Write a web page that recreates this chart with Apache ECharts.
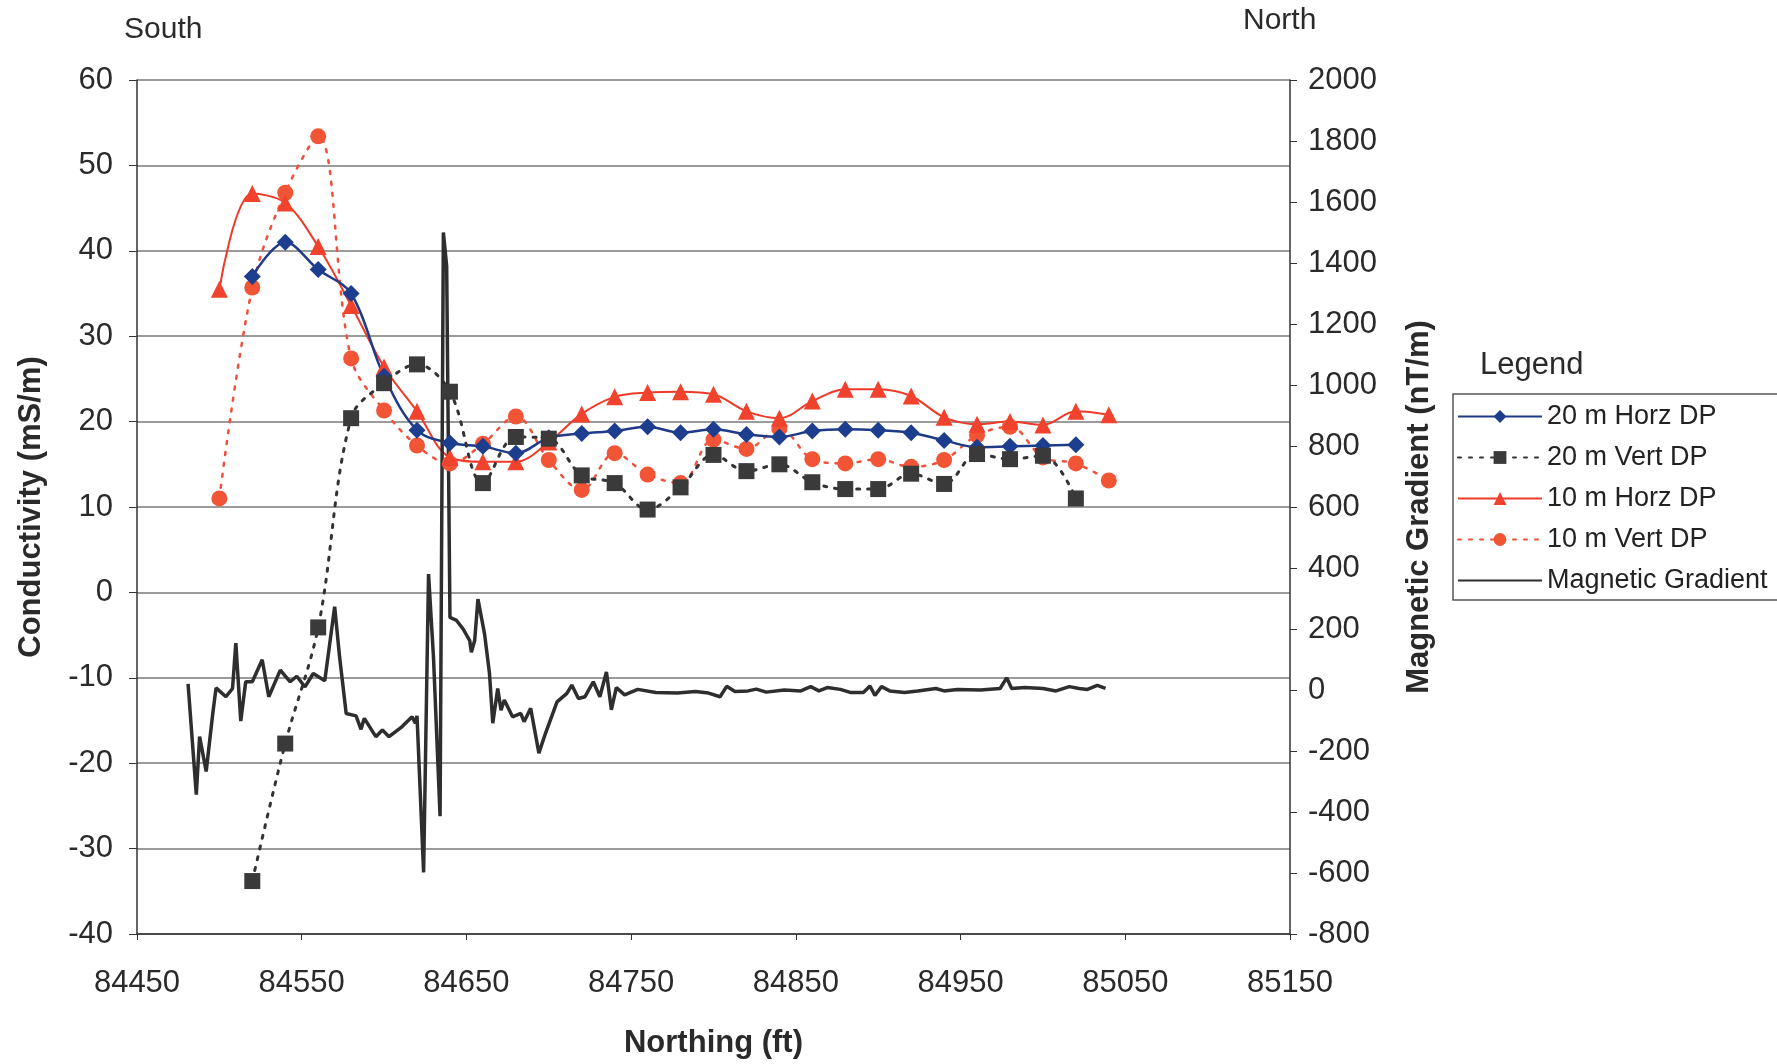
<!DOCTYPE html>
<html><head><meta charset="utf-8">
<script src="https://cdn.jsdelivr.net/npm/echarts@6/dist/echarts.min.js"></script>
<style>html,body{margin:0;padding:0;background:#fff}#c{width:1777px;height:1064px}</style>
</head><body><div id="c"></div>
<script>
// ---- data ----
const xTickLabels = [84450, 84550, 84650, 84750, 84850, 84950, 85050, 85150];
const leftTicks = [-40, -30, -20, -10, 0, 10, 20, 30, 40, 50, 60];
const rightTicks = [-800, -600, -400, -200, 0, 200, 400, 600, 800, 1000, 1200, 1400, 1600, 1800, 2000];

const northing20 = [84520, 84540, 84560, 84580, 84600, 84620, 84640, 84660, 84680, 84700, 84720, 84740, 84760,
  84780, 84800, 84820, 84840, 84860, 84880, 84900, 84920, 84940, 84960, 84980, 85000, 85020];
const horz20 = [37.0, 41.0, 37.8, 35.0, 25.3, 19.0, 17.5, 17.1, 16.3, 18.1, 18.6, 18.9, 19.4,
  18.7, 19.1, 18.5, 18.2, 18.9, 19.1, 19.0, 18.7, 17.8, 17.0, 17.1, 17.2, 17.3];
const vert20 = [-33.8, -17.7, -4.1, 20.4, 24.5, 26.7, 23.5, 12.8, 18.2, 18.0, 13.7, 12.8, 9.7,
  12.3, 16.1, 14.2, 15.0, 12.9, 12.1, 12.1, 13.9, 12.7, 16.2, 15.6, 16.0, 11.0];

const northing10 = [84500, 84520, 84540, 84560, 84580, 84600, 84620, 84640, 84660, 84680, 84700, 84720, 84740, 84760,
  84780, 84800, 84820, 84840, 84860, 84880, 84900, 84920, 84940, 84960, 84980, 85000, 85020, 85040];
const horz10 = [35.5, 46.7, 45.6, 40.5, 33.6, 26.4, 21.2, 15.8, 15.3, 15.3, 17.6, 20.9, 22.9, 23.4,
  23.5, 23.2, 21.2, 20.4, 22.4, 23.8, 23.8, 23.0, 20.5, 19.7, 20.0, 19.6, 21.2, 20.8];
const vert10 = [11.0, 35.7, 46.8, 53.4, 27.4, 21.3, 17.2, 15.1, 17.4, 20.6, 15.5, 12.0, 16.3, 13.8,
  12.8, 17.9, 16.8, 19.2, 15.6, 15.1, 15.6, 14.7, 15.5, 18.4, 19.4, 15.8, 15.1, 13.1];

const magNorthing = [84481, 84486, 84488, 84492, 84496, 84498, 84504, 84508, 84510, 84513, 84516, 84520, 84526,
  84530, 84537, 84543, 84547, 84552, 84557, 84564, 84570, 84573, 84577, 84583, 84586, 84588, 84595, 84599,
  84603, 84611, 84617, 84619, 84620, 84624, 84627, 84630, 84634, 84636, 84638, 84640, 84644, 84648, 84652,
  84653, 84655, 84657, 84661, 84664, 84666, 84669, 84671, 84673, 84678, 84683, 84685, 84689, 84694, 84698,
  84705, 84711, 84714, 84718, 84722, 84727, 84731, 84735, 84738, 84741, 84746, 84754, 84765, 84778, 84789,
  84797, 84804, 84808, 84813, 84821, 84826, 84832, 84843, 84853, 84859, 84864, 84869, 84877, 84883, 84891,
  84895, 84898, 84902, 84907, 84916, 84924, 84935, 84940, 84948, 84962, 84974, 84978, 84981, 84989, 85000,
  85008, 85016, 85022, 85027, 85033, 85038];
const magGradient = [20, -343, -153, -267, -77, 7, -22, 5, 154, -102, 27, 27, 99,
  -22, 65, 27, 45, 10, 54, 30, 273, 108, -77, -85, -129, -93, -153, -131,
  -153, -120, -88, -109, -85, -598, 380, 108, -414, 1500, 1390, 238, 228, 200, 162,
  124, 162, 298, 184, 54, -109, 5, -66, -33, -88, -77, -104, -60, -207, -142,
  -39, -11, 16, -28, -22, 27, -22, 59, -65, 8, -16, 2, -8, -10, -5,
  -10, -22, 12, -5, -3, 3, -7, 0, -3, 11, -3, 8, 2, -8, -8,
  13, -18, 11, -3, -8, -3, 5, -3, 2, 0, 5, 40, 5, 8, 5,
  -3, 11, 5, 2, 15, 5];

// ---- chart ----
const FF = '"Liberation Sans", Arial, sans-serif';
const pairs = (xs, ys) => xs.map((x, i) => [x, ys[i]]);
const plain = v => String(v);
const chart = echarts.init(document.getElementById('c'), null, {renderer: 'canvas'});

chart.setOption({
  animation: false,
  backgroundColor: '#fff',
  textStyle: {fontFamily: FF},
  grid: {left: 137, right: 487, top: 80, bottom: 129, containLabel: false},
  graphic: [
    {type: 'text', left: 124, top: 15, style: {text: 'South', font: '30px ' + FF, fill: '#2a2a2a'}},
    {type: 'text', left: 1243, top: 6, style: {text: 'North', font: '30px ' + FF, fill: '#2a2a2a'}},
    {type: 'text', left: 1480, top: 350, style: {text: 'Legend', font: '31px ' + FF, fill: '#2a2a2a'}}
  ],
  legend: {
    orient: 'vertical', left: 1453, top: 394,
    data: ['20 m Horz DP', '20 m Vert DP', '10 m Horz DP', '10 m Vert DP',
      {name: 'Magnetic Gradient', itemStyle: {opacity: 0}}],
    itemWidth: 84, itemHeight: 16, itemGap: 14,
    padding: [9, 12, 6, 4],
    borderColor: '#555', borderWidth: 1.5,
    textStyle: {fontSize: 27, color: '#222', fontFamily: FF}
  },
  xAxis: {
    type: 'value', min: 84450, max: 85150, interval: 100,
    name: 'Northing (ft)', nameLocation: 'middle', nameGap: 94,
    nameTextStyle: {fontSize: 31, fontWeight: 'bold', color: '#2a2a2a', fontFamily: FF},
    splitLine: {show: false},
    axisLine: {onZero: false, lineStyle: {color: '#333', width: 1.5}},
    axisTick: {customValues: xTickLabels, length: 6, lineStyle: {color: '#333'}},
    axisLabel: {customValues: xTickLabels, formatter: plain, fontSize: 31, color: '#2a2a2a', margin: 34, fontFamily: FF}
  },
  yAxis: [
    {
      type: 'value', min: -40, max: 60, interval: 10,
      name: 'Conductivity (mS/m)', nameLocation: 'middle', nameGap: 90,
      nameTextStyle: {fontSize: 31, fontWeight: 'bold', color: '#2a2a2a', fontFamily: FF},
      axisLine: {show: true, onZero: false, lineStyle: {color: '#333', width: 1.5}},
      axisTick: {show: true, length: 8, lineStyle: {color: '#333'}},
      axisLabel: {customValues: leftTicks, formatter: plain, fontSize: 31, color: '#2a2a2a', margin: 24, fontFamily: FF},
      splitLine: {show: true, lineStyle: {color: '#7a7a7a', width: 1.5}}
    },
    {
      type: 'value', min: -800, max: 2000, interval: 200, position: 'right',
      name: 'Magnetic Gradient (nT/m)', nameLocation: 'middle', nameGap: 114,
      nameTextStyle: {fontSize: 31, fontWeight: 'bold', color: '#2a2a2a', fontFamily: FF},
      axisLine: {show: true, onZero: false, lineStyle: {color: '#333', width: 1.5}},
      axisTick: {show: true, length: 7, lineStyle: {color: '#333'}},
      axisLabel: {customValues: rightTicks, formatter: plain, fontSize: 31, color: '#2a2a2a', margin: 18, fontFamily: FF},
      splitLine: {show: false}
    }
  ],
  series: [
    {
      name: '10 m Vert DP', type: 'line', yAxisIndex: 0, data: pairs(northing10, vert10),
      smooth: 0.35, symbol: 'circle', symbolSize: 16,
      lineStyle: {color: '#f0503a', width: 2.5, type: [3, 8], cap: 'round'},
      itemStyle: {color: '#f25436'}
    },
    {
      name: '10 m Horz DP', type: 'line', yAxisIndex: 0, data: pairs(northing10, horz10),
      smooth: 0.35, symbol: 'triangle', symbolSize: 17,
      lineStyle: {color: '#ee3a28', width: 2},
      itemStyle: {color: '#f0422c'}
    },
    {
      name: '20 m Horz DP', type: 'line', yAxisIndex: 0, data: pairs(northing20, horz20),
      smooth: 0.35, symbol: 'diamond', symbolSize: 17,
      lineStyle: {color: '#1f3a86', width: 2.5},
      itemStyle: {color: '#1d3d8e'}
    },
    {
      name: '20 m Vert DP', type: 'line', yAxisIndex: 0, data: pairs(northing20, vert20),
      smooth: 0.35, symbol: 'rect', symbolSize: 16,
      lineStyle: {color: '#333', width: 3, type: [3, 8], cap: 'round'},
      itemStyle: {color: '#3a3a3a'}
    },
    {
      name: 'Magnetic Gradient', type: 'line', yAxisIndex: 1, data: pairs(magNorthing, magGradient),
      smooth: false, symbol: 'none',
      lineStyle: {color: '#2e2e2e', width: 3.5},
      itemStyle: {color: '#2e2e2e'}
    }
  ]
});
</script>
</body></html>
